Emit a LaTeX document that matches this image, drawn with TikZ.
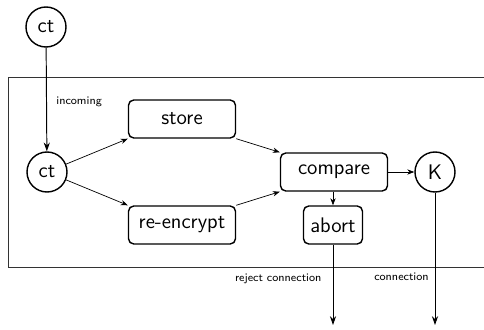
\documentclass[tikz,border=0pt]{standalone}
\usepackage{tikz}
\usetikzlibrary{arrows.meta}
\usetikzlibrary{positioning}
\renewcommand{\familydefault}{\sfdefault}

\begin{document}
\begin{tikzpicture}[x=.2cm,y=.2cm,
  state/.style={draw,thick,circle,minimum size=.8cm,inner sep=0pt,font=\large},
  proc/.style={draw,thick,rounded corners=3pt,minimum width=2.14cm,minimum height=.76cm,font=\large},
  edge/.style={-{Stealth[length=4pt,width=3pt]},thin},
  outedge/.style={-{Stealth[length=5pt,width=3.5pt]},line width=.55pt},
  lbl/.style={font=\fontsize{6.5}{7}\selectfont}]
\clip (0,0) rectangle (48.4,32.9);

% the server box, open to the right
\draw [black!80,line width=.5pt] (0.8,25.2) rectangle (50,6.2);

\node[state] (ctin) at (4.6,30.2) {ct};
\node[state] (ct) at (4.7,15.7) {ct};
\node[proc] (store) at (18.2,21.0) {store};
\node[proc] (reenc) at (18.2,10.4) {re-encrypt};
\node[proc] (compare) at (33.4,15.7) {compare};
\node[state] (key) at (43.5,15.7) {K};
\node[proc,minimum width=1.18cm] (abort) at (33.3,10.4) {abort};
\coordinate (rejected) at (33.3,0.4);
\coordinate (accepted) at (43.5,0.4);

\draw [outedge] (ctin) -- node[lbl,right=2pt,pos=0.52]{incoming} (ct);

\draw [edge] (ct) -- (store.south west);
\draw [edge] (ct) -- (reenc.north west);
\draw [edge] (store.south east) -- (compare.north west);
\draw [edge] (reenc.north east) -- (compare.south west);
\draw [edge] (compare) -- (key);
\draw [edge] (compare.south -| abort.north) -- (abort.north);

\draw [outedge] (abort) -- node[lbl,pos=0.28,anchor=north east,xshift=-3pt]{reject connection} (rejected);
\draw [outedge] (key) -- node[lbl,pos=0.56,anchor=north east]{connection} (accepted);
\end{tikzpicture}
\end{document}
